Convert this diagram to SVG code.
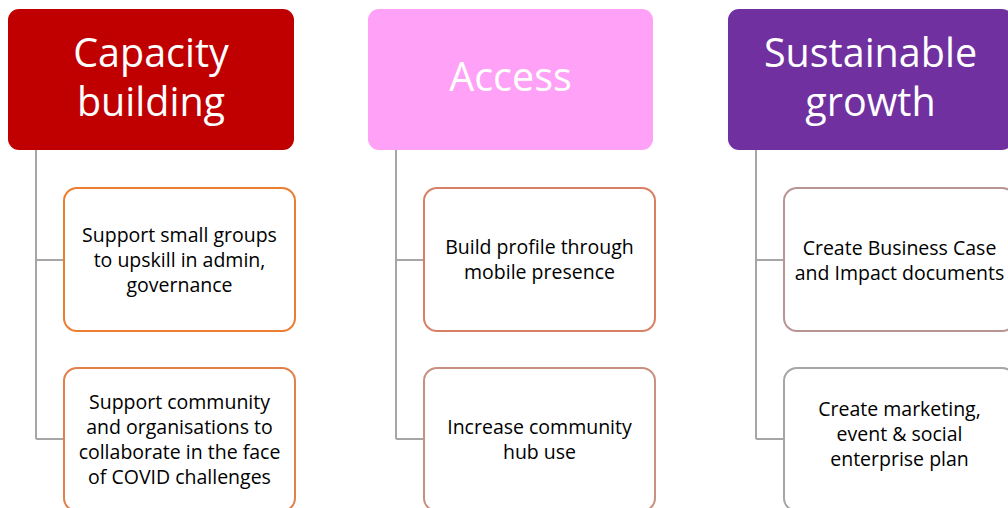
<svg xmlns="http://www.w3.org/2000/svg" width="1008" height="508" viewBox="0 0 1008 508">
<style>
.hdr{font-family:"Open Sans","Noto Sans","Liberation Sans",sans-serif;font-size:39.5px;fill:#fff;text-anchor:middle}
.txt{font-family:"Open Sans","Noto Sans","Liberation Sans",sans-serif;font-size:19.5px;fill:#000;text-anchor:middle}
.box{fill:#fff;stroke-width:2}
.conn{fill:none;stroke:#A6A6A6;stroke-width:2}
</style>
<rect width="1008" height="508" fill="#fff"/>
<g id="connectors">
<path class="conn" d="M36 150 V439 M36 260 H64 M36 439 H64"/>
<path class="conn" d="M396 150 V439 M396 260 H424 M396 439 H424"/>
<path class="conn" d="M756 150 V439 M756 260 H784 M756 439 H784"/>
</g>
<g id="capacity-building">
<rect x="8" y="9" width="286" height="141" rx="11" fill="#C00000"/>
<text class="hdr"><tspan x="151" y="67">Capacity</tspan><tspan x="151" y="116">building</tspan></text>
</g>
<g id="access">
<rect x="368" y="9" width="285" height="141" rx="11" fill="#FFA1F7"/>
<text class="hdr" x="510.5" y="91">Access</text>
</g>
<g id="sustainable-growth">
<rect x="728" y="9" width="285" height="141" rx="11" fill="#7030A0"/>
<text class="hdr"><tspan x="870.5" y="67">Sustainable</tspan><tspan x="870.5" y="116">growth</tspan></text>
</g>
<g id="cb-1">
<rect class="box" x="64" y="188" width="231" height="143" rx="13" stroke="#ED7D31"/>
<text class="txt"><tspan x="179.5" y="242">Support small groups</tspan><tspan x="179.5" y="267">to upskill in admin,</tspan><tspan x="179.5" y="292">governance</tspan></text>
</g>
<g id="cb-2">
<rect class="box" x="64" y="368" width="231" height="143" rx="13" stroke="#E2804A"/>
<text class="txt"><tspan x="179.5" y="409">Support community</tspan><tspan x="179.5" y="434">and organisations to</tspan><tspan x="179.5" y="459">collaborate in the face</tspan><tspan x="179.5" y="484">of COVID challenges</tspan></text>
</g>
<g id="ac-1">
<rect class="box" x="424" y="188" width="231" height="143" rx="13" stroke="#D88064"/>
<text class="txt"><tspan x="539.5" y="254">Build profile through</tspan><tspan x="539.5" y="279">mobile presence</tspan></text>
</g>
<g id="ac-2">
<rect class="box" x="424" y="368" width="231" height="143" rx="13" stroke="#C8917F"/>
<text class="txt"><tspan x="539.5" y="434">Increase community</tspan><tspan x="539.5" y="459">hub use</tspan></text>
</g>
<g id="sg-1">
<rect class="box" x="784" y="188" width="231" height="143" rx="13" stroke="#B89494"/>
<text class="txt"><tspan x="899.5" y="255">Create Business Case</tspan><tspan x="899.5" y="280">and Impact documents</tspan></text>
</g>
<g id="sg-2">
<rect class="box" x="784" y="368" width="231" height="143" rx="13" stroke="#A6A6A6"/>
<text class="txt"><tspan x="899.5" y="416">Create marketing,</tspan><tspan x="899.5" y="441">event &amp; social</tspan><tspan x="899.5" y="466">enterprise plan</tspan></text>
</g>
</svg>
